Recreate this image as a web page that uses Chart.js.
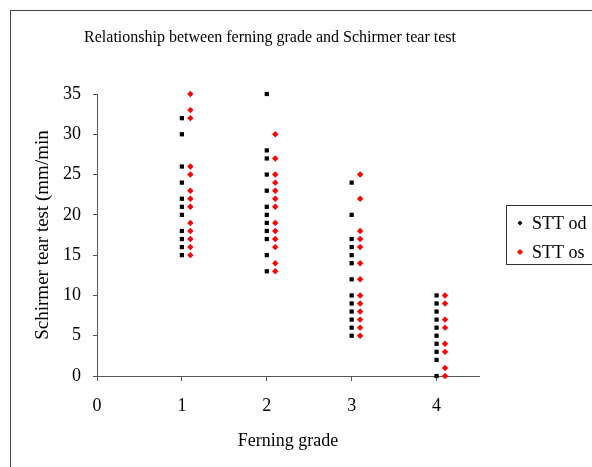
<!DOCTYPE html>
<html>
<head>
<meta charset="utf-8">
<script src="https://cdn.jsdelivr.net/npm/chart.js@4/dist/chart.umd.min.js"></script>
<style>
  html, body { margin: 0; padding: 0; background: #fff; overflow: hidden; }
  #wrap { width: 592px; height: 467px; position: relative; }
</style>
</head>
<body>
<div id="wrap"><canvas id="c" width="592" height="467"></canvas></div>
<script>
// Ferning grade groups
const grades = [1, 2, 3, 4];

// Schirmer tear test values per grade, right eye (od)
const sttOd = [
  [32, 30, 26, 24, 22, 21, 20, 18, 17, 16, 15],
  [35, 28, 27, 25, 23, 21, 20, 19, 18, 17, 15, 13],
  [24, 20, 17, 16, 15, 14, 12, 10, 9, 8, 7, 6, 5],
  [10, 9, 8, 7, 6, 5, 4, 3, 2, 0]
];

// Schirmer tear test values per grade, left eye (os)
const sttOs = [
  [35, 33, 32, 26, 25, 23, 22, 21, 19, 18, 17, 16, 15],
  [30, 27, 25, 24, 23, 22, 21, 19, 18, 17, 16, 14, 13],
  [25, 22, 18, 17, 16, 14, 12, 10, 9, 8, 7, 6, 5],
  [10, 9, 7, 6, 4, 3, 1, 0]
];

const xTicks = [0, 1, 2, 3, 4];
const yTicks = [0, 5, 10, 15, 20, 25, 30, 35];

const chartTitle = 'Relationship between ferning grade and Schirmer tear test';
const OS_SHIFT = 0.1; // os points sit just right of the grade

function toPoints(groups, shift) {
  const pts = [];
  groups.forEach((vals, i) => {
    vals.forEach(v => pts.push({ x: grades[i] + shift, y: v }));
  });
  return pts;
}

const serif = "'Liberation Serif', 'Times New Roman', serif";

// outer frame, title and legend box drawn on the canvas
const framePlugin = {
  id: 'frame',
  beforeDraw(chart) {
    const ctx = chart.ctx;
    ctx.save();
    ctx.fillStyle = '#fff';
    ctx.fillRect(0, 0, chart.width, chart.height);
    ctx.strokeStyle = '#444';
    ctx.lineWidth = 1;
    ctx.strokeRect(10.5, 10.5, 700, 600);
    ctx.fillStyle = '#000';
    ctx.font = '16px ' + serif;
    ctx.textAlign = 'center';
    ctx.textBaseline = 'middle';
    ctx.fillText(chartTitle, 270, 38);
    ctx.restore();
  },
  afterDraw(chart) {
    const ctx = chart.ctx;
    ctx.save();
    ctx.strokeStyle = '#333';
    ctx.lineWidth = 1;
    ctx.strokeRect(506.5, 205.5, 100, 59);
    ctx.font = '18px ' + serif;
    ctx.textBaseline = 'middle';
    chart.data.datasets.forEach((ds, i) => {
      const y = 223 + i * 29;
      const r = i === 0 ? 2.5 : 3;
      ctx.fillStyle = ds.backgroundColor;
      ctx.beginPath();
      ctx.moveTo(520, y - r);
      ctx.lineTo(520 + r, y);
      ctx.lineTo(520, y + r);
      ctx.lineTo(520 - r, y);
      ctx.closePath();
      ctx.fill();
      ctx.fillStyle = '#000';
      ctx.fillText(ds.label, 532, y + 1);
    });
    ctx.restore();
  }
};

new Chart(document.getElementById('c'), {
  type: 'scatter',
  data: {
    datasets: [
      {
        label: 'STT od',
        data: toPoints(sttOd, 0),
        backgroundColor: '#000',
        borderColor: '#000',
        pointStyle: 'rect',
        pointRadius: 3,
        borderWidth: 0,
        clip: false
      },
      {
        label: 'STT os',
        data: toPoints(sttOs, OS_SHIFT),
        backgroundColor: '#f00',
        borderColor: '#f00',
        pointStyle: 'rectRot',
        pointRadius: 3.2,
        borderWidth: 0,
        clip: false
      }
    ]
  },
  options: {
    responsive: false,
    animation: false,
    layout: { padding: { left: 10, top: 94, right: 113, bottom: 0 } },
    plugins: {
      legend: { display: false },
      tooltip: { enabled: false },
      title: { display: false }
    },
    scales: {
      x: {
        type: 'linear',
        min: 0,
        max: 4.5,
        afterBuildTicks: s => { s.ticks = xTicks.map(v => ({ value: v })); },
        afterFit: s => { s.height = 91; },
        grid: { drawOnChartArea: false, color: '#555', tickLength: 5, tickColor: '#555' },
        border: { color: '#555', width: 1 },
        ticks: { color: '#000', padding: 14, font: { family: serif, size: 18 } },
        title: {
          display: true,
          text: 'Ferning grade',
          color: '#000',
          font: { family: serif, size: 18 },
          padding: { top: 8, bottom: 15 }
        }
      },
      y: {
        min: 0,
        max: 35,
        afterBuildTicks: s => { s.ticks = yTicks.map(v => ({ value: v })); },
        afterFit: s => { s.width = 87; },
        grid: { drawOnChartArea: false, color: '#555', tickLength: 4, tickColor: '#555' },
        border: { color: '#555', width: 1 },
        ticks: { color: '#000', padding: 12, font: { family: serif, size: 18 } },
        title: {
          display: true,
          text: 'Schirmer tear test (mm/min',
          color: '#000',
          font: { family: serif, size: 19 },
          padding: { top: 22, bottom: 0 }
        }
      }
    }
  },
  plugins: [framePlugin]
});
</script>
</body>
</html>
